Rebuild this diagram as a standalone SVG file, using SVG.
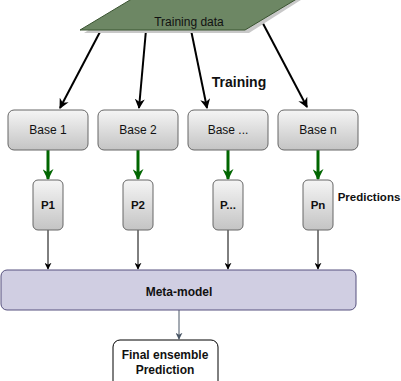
<svg xmlns="http://www.w3.org/2000/svg" width="401" height="381" viewBox="0 0 401 381">
<defs>
<linearGradient id="gray" x1="0" y1="0" x2="0" y2="1">
<stop offset="0" stop-color="#f5f5f5"/>
<stop offset="1" stop-color="#c4c4c4"/>
</linearGradient>
<marker id="ab" viewBox="0 0 10 10" refX="9" refY="5" markerWidth="10" markerHeight="10" markerUnits="userSpaceOnUse" orient="auto">
<path d="M0,0 L10,5 L0,10 L3,5 Z" fill="#000"/>
</marker>
<marker id="ag" viewBox="0 0 10 10" refX="9" refY="5" markerWidth="11" markerHeight="11" markerUnits="userSpaceOnUse" orient="auto">
<path d="M0,0 L10,5 L0,10 L3,5 Z" fill="#006600"/>
</marker>
<marker id="as" viewBox="0 0 10 10" refX="9" refY="5" markerWidth="7" markerHeight="7" markerUnits="userSpaceOnUse" orient="auto">
<path d="M0,0 L10,5 L0,10 L3,5 Z" fill="#000"/>
</marker>
<marker id="at" viewBox="0 0 10 10" refX="9" refY="5" markerWidth="7" markerHeight="7" markerUnits="userSpaceOnUse" orient="auto">
<path d="M0,0 L10,5 L0,10 L3,5 Z" fill="#4a5766"/>
</marker>
</defs>
<style>
text{font-family:"Liberation Sans",Arial,sans-serif;text-anchor:middle;fill:#111}
.base{fill:url(#gray);stroke:#666;stroke-width:1}
.b{font-weight:bold}
.blk{stroke:#000;stroke-width:2;fill:none}
.grn{stroke:#006600;stroke-width:3;fill:none}
.thin{stroke:#000;stroke-width:1;fill:none}
</style>
<rect width="401" height="381" fill="#fff"/>
<g id="connectors">
<line class="blk" x1="101" y1="30" x2="60" y2="108" marker-end="url(#ab)"/>
<line class="blk" x1="146" y1="30" x2="139" y2="108" marker-end="url(#ab)"/>
<line class="blk" x1="191" y1="30" x2="207" y2="108" marker-end="url(#ab)"/>
<line class="blk" x1="258" y1="14" x2="307" y2="107" marker-end="url(#ab)"/>
<line class="grn" x1="48" y1="150" x2="48" y2="179" marker-end="url(#ag)"/>
<line class="grn" x1="138" y1="150" x2="138" y2="179" marker-end="url(#ag)"/>
<line class="grn" x1="228" y1="150" x2="228" y2="179" marker-end="url(#ag)"/>
<line class="grn" x1="318" y1="150" x2="318" y2="179" marker-end="url(#ag)"/>
<line class="thin" x1="48" y1="230" x2="48" y2="269" marker-end="url(#as)"/>
<line class="thin" x1="138" y1="230" x2="138" y2="269" marker-end="url(#as)"/>
<line class="thin" x1="228" y1="230" x2="228" y2="269" marker-end="url(#as)"/>
<line class="thin" x1="318" y1="230" x2="318" y2="269" marker-end="url(#as)"/>
<line x1="179" y1="310" x2="179" y2="339" stroke="#4a5766" stroke-width="1" marker-end="url(#at)"/>
</g>
<g id="training-data">
<polygon points="84,33 139,-2 304,-2 249,33" fill="#c8c8c8"/>
<polygon points="80,30 135,-3 300,-3 245,30" fill="#6d8764" stroke="#3a5431" stroke-width="1"/>
<text x="189" y="26" font-size="12">Training data</text>
</g>
<text class="b" x="239" y="87" font-size="14">Training</text>
<g id="base1"><rect class="base" x="8" y="110" width="80" height="40" rx="6"/><text x="48" y="134" font-size="12">Base 1</text></g>
<g id="base2"><rect class="base" x="98" y="110" width="80" height="40" rx="6"/><text x="138" y="134" font-size="12">Base 2</text></g>
<g id="base3"><rect class="base" x="188" y="110" width="80" height="40" rx="6"/><text x="228" y="134" font-size="12">Base ...</text></g>
<g id="basen"><rect class="base" x="278" y="110" width="80" height="40" rx="6"/><text x="318" y="134" font-size="12">Base n</text></g>
<g id="p1"><rect class="base" x="33" y="180" width="30" height="50" rx="5"/><text class="b" x="48" y="209" font-size="11.5">P1</text></g>
<g id="p2"><rect class="base" x="123" y="180" width="30" height="50" rx="5"/><text class="b" x="138" y="209" font-size="11.5">P2</text></g>
<g id="p3"><rect class="base" x="213" y="180" width="30" height="50" rx="5"/><text class="b" x="228" y="209" font-size="11.5">P...</text></g>
<g id="pn"><rect class="base" x="303" y="180" width="30" height="50" rx="5"/><text class="b" x="318" y="209" font-size="11.5">Pn</text></g>
<text class="b" x="369" y="201" font-size="11.5">Predictions</text>
<g id="meta-model"><rect x="1" y="270" width="355" height="40" rx="6" fill="#d0cee2" stroke="#56517e" stroke-width="1"/><text class="b" x="179" y="296" font-size="12">Meta-model</text></g>
<g id="final"><rect x="113" y="340" width="105" height="50" rx="7" fill="#fff" stroke="#000" stroke-width="1"/><text class="b" x="165" y="359" font-size="12">Final ensemble</text><text class="b" x="165" y="374" font-size="12">Prediction</text></g>
</svg>
